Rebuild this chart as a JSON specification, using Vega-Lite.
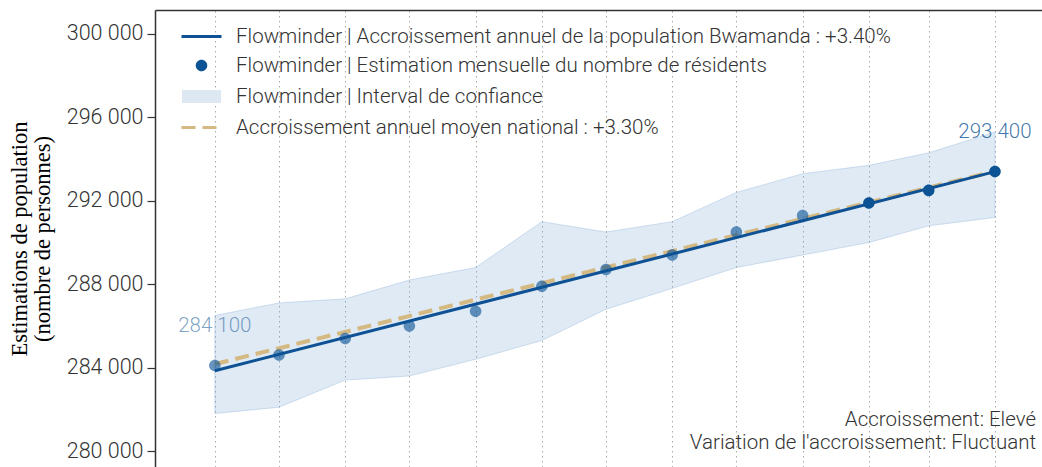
{
  "$schema": "https://vega.github.io/schema/vega-lite/v6.json",
  "width": 887,
  "height": 457,
  "autosize": {"type": "none"},
  "padding": {"left": 155, "top": 10, "right": 0, "bottom": 0},
  "background": "white",
  "config": {
    "view": {"stroke": null},
    "font": "Roboto",
    "locale": {"number": {"decimal": ",", "thousands": " ", "grouping": [3], "currency": ["", " €"]}},
    "legend": {
      "title": null,
      "orient": "none",
      "legendX": 33,
      "legendY": 13,
      "padding": 0,
      "rowPadding": 5,
      "symbolSize": 576,
      "symbolStrokeWidth": 3,
      "symbolOpacity": 1,
      "labelOffset": 21,
      "labelFont": "Roboto",
      "labelFontSize": 20.5,
      "labelFontWeight": 300,
      "labelColor": "#333333",
      "labelLimit": 900
    }
  },
  "title": {
    "text": ["Accroissement: Elevé", "Variation de l'accroissement: Fluctuant"],
    "orient": "bottom",
    "anchor": "end",
    "frame": "group",
    "align": "right",
    "offset": -57,
    "dx": -6,
    "font": "Roboto",
    "fontSize": 20.5,
    "fontWeight": 300,
    "color": "#333333",
    "lineHeight": 23
  },
  "data": {
    "values": [
      {"date": "2020-04-01T00:00:00", "estimation": 284100, "bas": 281800, "haut": 286500, "tendance": 283850, "national": 284170, "fiabilite": "moindre", "extremite": "debut"},
      {"date": "2020-05-01T00:00:00", "estimation": 284600, "bas": 282100, "haut": 287100, "fiabilite": "moindre"},
      {"date": "2020-06-01T00:00:00", "estimation": 285400, "bas": 283400, "haut": 287300, "fiabilite": "moindre"},
      {"date": "2020-07-01T00:00:00", "estimation": 286000, "bas": 283600, "haut": 288200, "fiabilite": "moindre"},
      {"date": "2020-08-01T00:00:00", "estimation": 286700, "bas": 284400, "haut": 288800, "fiabilite": "moindre"},
      {"date": "2020-09-01T00:00:00", "estimation": 287900, "bas": 285300, "haut": 291000, "fiabilite": "moindre"},
      {"date": "2020-10-01T00:00:00", "estimation": 288700, "bas": 286800, "haut": 290500, "fiabilite": "moindre"},
      {"date": "2020-11-01T00:00:00", "estimation": 289400, "bas": 287800, "haut": 291000, "fiabilite": "moindre"},
      {"date": "2020-12-01T00:00:00", "estimation": 290500, "bas": 288800, "haut": 292400, "fiabilite": "moindre"},
      {"date": "2021-01-01T00:00:00", "estimation": 291300, "bas": 289400, "haut": 293300, "fiabilite": "moindre"},
      {"date": "2021-02-01T00:00:00", "estimation": 291900, "bas": 290000, "haut": 293700, "fiabilite": "haute"},
      {"date": "2021-03-01T00:00:00", "estimation": 292500, "bas": 290800, "haut": 294300, "fiabilite": "haute"},
      {"date": "2021-04-01T00:00:00", "estimation": 293400, "bas": 291200, "haut": 295300, "tendance": 293400, "national": 293420, "fiabilite": "haute", "extremite": "fin"}
    ]
  },
  "encoding": {
    "x": {
      "field": "date",
      "type": "temporal",
      "scale": {"domain": [{"year": 2020, "month": 3, "date": 4}, {"year": 2021, "month": 4, "date": 23}]},
      "axis": {
        "orient": "top",
        "title": null,
        "labels": false,
        "ticks": false,
        "domain": true,
        "domainColor": "#333333",
        "domainWidth": 1.5,
        "grid": true,
        "gridColor": "#aaaaaa",
        "gridDash": [1.5, 3.5],
        "gridWidth": 1,
        "tickCount": {"interval": "month", "step": 1}
      }
    }
  },
  "layer": [
    {
      "mark": {"type": "area", "fill": "#6f9fcf", "fillOpacity": 0.22, "stroke": "#6f9fcf", "strokeOpacity": 0.3, "strokeWidth": 1},
      "encoding": {
        "y": {
          "field": "haut",
          "type": "quantitative",
          "scale": {"domain": [279233, 301151], "nice": false, "zero": false},
          "axis": {
            "title": ["Estimations de population", "(nombre de personnes)"],
            "titleFont": "Liberation Serif",
            "titleFontSize": 22.5,
            "titleFontWeight": "normal",
            "titleColor": "#000000",
            "titleLineHeight": 23,
            "titlePadding": 12,
            "values": [280000, 284000, 288000, 292000, 296000, 300000],
            "labelExpr": "replace(format(datum.value, ','), ',', ' ')",
            "labelFont": "Roboto",
            "labelFontSize": 21.5,
            "labelFontWeight": 300,
            "labelColor": "#333333",
            "labelPadding": 4,
            "tickColor": "#333333",
            "tickSize": 8,
            "tickWidth": 1.2,
            "domainColor": "#333333",
            "domainWidth": 1.5,
            "grid": false
          }
        },
        "y2": {"field": "bas"}
      }
    },
    {
      "transform": [{"filter": "isValid(datum.national)"}],
      "mark": {"type": "line", "strokeWidth": 4, "strokeDash": [14, 7], "stroke": "#d4b982"},
      "encoding": {
        "y": {"field": "national", "type": "quantitative"}
      }
    },
    {
      "transform": [{"filter": "isValid(datum.tendance)"}],
      "mark": {"type": "line", "strokeWidth": 3},
      "encoding": {
        "y": {"field": "tendance", "type": "quantitative"},
        "stroke": {
          "datum": "Flowminder | Accroissement annuel de la population Bwamanda : +3.40%",
          "type": "nominal",
          "scale": {
            "domain": [
              "Flowminder | Accroissement annuel de la population Bwamanda : +3.40%",
              "Flowminder | Estimation mensuelle du nombre de résidents",
              "Flowminder | Interval de confiance",
              "Accroissement annuel moyen national : +3.30%"
            ],
            "range": ["#0e5194", "transparent", "transparent", "#d4b982"]
          }
        }
      }
    },
    {
      "mark": {"type": "point", "filled": true, "size": 576, "strokeWidth": 0},
      "encoding": {
        "y": {"field": "estimation", "type": "quantitative"},
        "fill": {
          "datum": "Flowminder | Estimation mensuelle du nombre de résidents",
          "type": "nominal",
          "scale": {
            "domain": [
              "Flowminder | Accroissement annuel de la population Bwamanda : +3.40%",
              "Flowminder | Estimation mensuelle du nombre de résidents",
              "Flowminder | Interval de confiance",
              "Accroissement annuel moyen national : +3.30%"
            ],
            "range": ["transparent", "#0b5394", "#dde8f3", "transparent"]
          }
        },
        "shape": {
          "datum": "Flowminder | Estimation mensuelle du nombre de résidents",
          "type": "nominal",
          "scale": {
            "domain": [
              "Flowminder | Accroissement annuel de la population Bwamanda : +3.40%",
              "Flowminder | Estimation mensuelle du nombre de résidents",
              "Flowminder | Interval de confiance",
              "Accroissement annuel moyen national : +3.30%"
            ],
            "range": [
              "M-1.667,0H1.667",
              "M0.48,0A0.48,0.48,0,1,1,-0.48,0A0.48,0.48,0,1,1,0.48,0Z",
              "M-1.625,-0.54H1.625V0.54H-1.625Z",
              "M-1.667,0H-0.5M0.083,0H1.25"
            ]
          }
        },
        "opacity": {"field": "fiabilite", "type": "nominal", "scale": {"domain": ["moindre", "haute"], "range": [0.62, 1]}, "legend": null}
      }
    },
    {
      "transform": [
        {"filter": "isValid(datum.extremite)"},
        {"calculate": "replace(format(datum.estimation, ','), ',', ' ')", "as": "etiquette"}
      ],
      "mark": {"type": "text", "dy": -40, "baseline": "middle", "align": "center", "font": "Roboto", "fontSize": 20.5, "fontWeight": 300, "color": "#0b5394"},
      "encoding": {
        "y": {"field": "estimation", "type": "quantitative"},
        "text": {"field": "etiquette"},
        "fillOpacity": {"field": "fiabilite", "type": "nominal", "scale": {"domain": ["moindre", "haute"], "range": [0.55, 0.8]}, "legend": null}
      }
    }
  ]
}
